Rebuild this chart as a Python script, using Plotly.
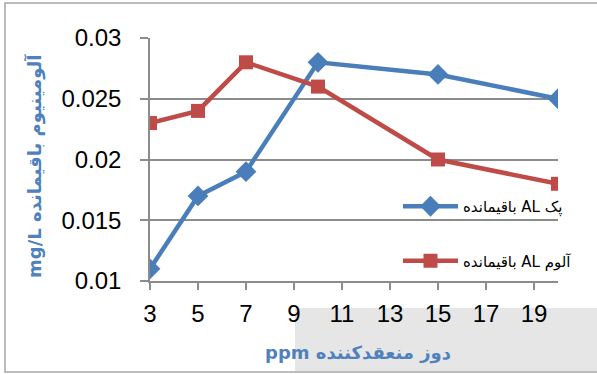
import plotly.graph_objects as go

# Coagulant dose (ppm) and residual aluminium (mg/L)
dose = [3, 5, 7, 10, 15, 20]
pac_residual = [0.011, 0.017, 0.019, 0.028, 0.027, 0.025]
alum_residual = [0.023, 0.024, 0.028, 0.026, 0.020, 0.018]

pac_name = "باقیمانده AL پک"
alum_name = "باقیمانده AL آلوم"

x_ticks = [3, 5, 7, 9, 11, 13, 15, 17, 19]
y_ticks = [0.01, 0.015, 0.02, 0.025, 0.03]
y_tick_text = ["0.01", "0.015", "0.02", "0.025", "0.03"]

x_title = "ppm دوز منعقدکننده"
y_title = "mg/L آلومینیوم باقیمانده"

BLUE = "#4A7EBB"
RED = "#BE4B48"
GRID = "#8C8C8C"
TITLE_BLUE = "#4F81BD"

fig = go.Figure()
fig.add_trace(go.Scatter(
    x=dose, y=pac_residual, name=pac_name, mode="lines+markers",
    line=dict(color=BLUE, width=4.5),
    marker=dict(symbol="diamond", size=16, color=BLUE),
    legendgroup="pac",
))
fig.add_trace(go.Scatter(
    x=dose, y=alum_residual, name=alum_name, mode="lines+markers",
    line=dict(color=RED, width=4.5),
    marker=dict(symbol="square", size=14, color=RED),
    legendgroup="alum",
))

W, H = 597, 374
L, R, T, B = 150, 39, 38, 93
pw, ph = W - L - R, H - T - B


def px_x(p):
    return (p - L) / pw


def px_y(p):
    return (H - B - p) / ph


# outer chart frame and the grey band along the bottom right
fig.add_shape(type="rect", xref="paper", yref="paper",
              x0=px_x(5), x1=px_x(605), y0=px_y(372), y1=px_y(3),
              line=dict(color="#A6A6A6", width=1.5), fillcolor="rgba(0,0,0,0)",
              layer="below")
fig.add_shape(type="rect", xref="paper", yref="paper",
              x0=px_x(295), x1=px_x(605), y0=px_y(371), y1=px_y(308),
              line=dict(width=0), fillcolor="#E6E6E6", layer="below")

fig.add_annotation(text=x_title, xref="paper", yref="paper",
                   x=px_x(358), y=px_y(353), showarrow=False,
                   xanchor="center", yanchor="middle",
                   font=dict(family="DejaVu Sans, Liberation Sans", size=18,
                             color=TITLE_BLUE, weight="bold"))
fig.add_annotation(text=y_title, xref="paper", yref="paper",
                   x=px_x(34), y=px_y(166), showarrow=False, textangle=-90,
                   xanchor="center", yanchor="middle",
                   font=dict(family="DejaVu Sans, Liberation Sans", size=18,
                             color=TITLE_BLUE, weight="bold"))

tick_font = dict(family="Liberation Sans, Arial", size=24, color="#000000")

fig.update_xaxes(
    range=[3, 20], tickvals=x_ticks, showgrid=False,
    showline=True, linecolor=GRID, linewidth=1.5,
    ticks="outside", ticklen=7, tickcolor=GRID, tickwidth=1.5,
    tickfont=tick_font, zeroline=False, ticklabelstandoff=3,
)
fig.update_yaxes(
    range=[0.01, 0.03], tickvals=y_ticks, ticktext=y_tick_text,
    showgrid=True, gridcolor=GRID, gridwidth=1.5,
    showline=True, linecolor=GRID, linewidth=1.5,
    ticks="outside", ticklen=8, tickcolor=GRID, tickwidth=1.5,
    tickfont=tick_font, zeroline=False, ticklabelstandoff=14,
)

fig.update_layout(
    width=W, height=H,
    margin=dict(l=L, r=R, t=T, b=B, autoexpand=False),
    paper_bgcolor="white", plot_bgcolor="white",
    showlegend=True,
    legend=dict(
        x=px_x(398), y=px_y(190), xanchor="left", yanchor="top",
        bgcolor="rgba(0,0,0,0)", itemwidth=55,
        traceorder="grouped", tracegroupgap=32,
        font=dict(family="DejaVu Sans, Liberation Sans", size=15, color="#000000"),
    ),
)

fig.write_html("out.html")
